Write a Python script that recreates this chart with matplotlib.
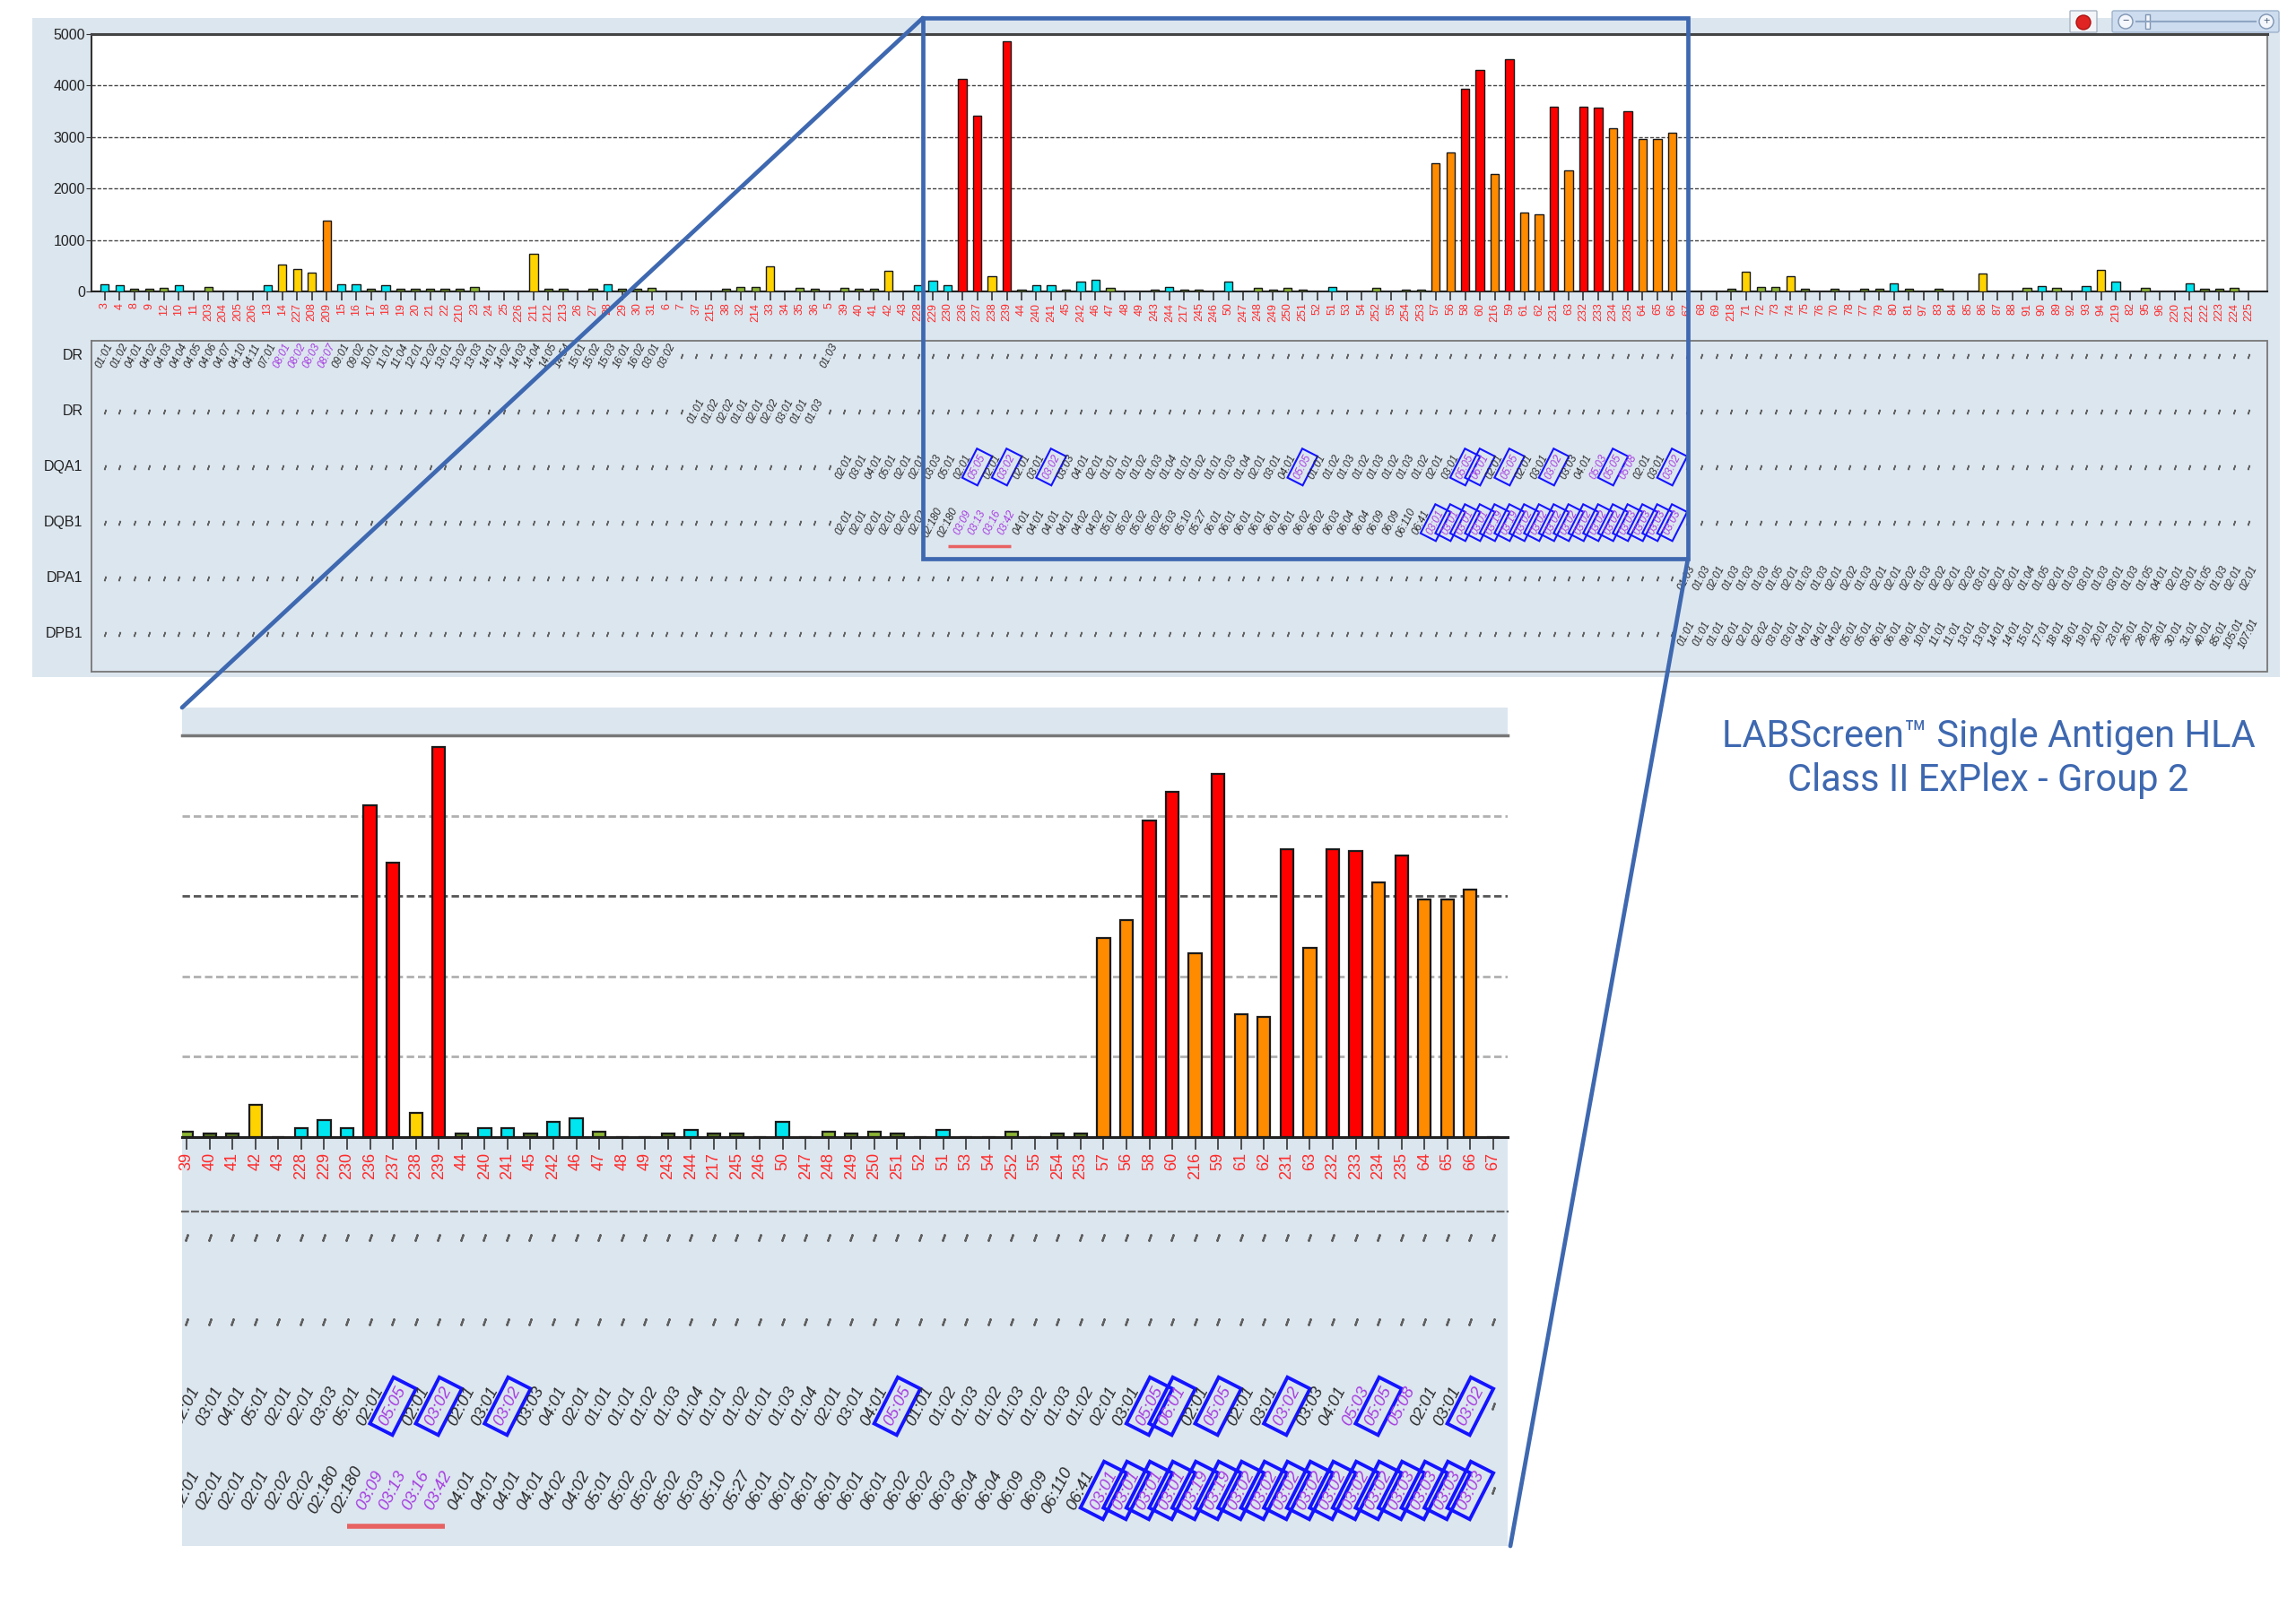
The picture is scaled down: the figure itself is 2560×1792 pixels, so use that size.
import numpy as np
import matplotlib
matplotlib.use("Agg")
import matplotlib.pyplot as plt
from matplotlib.patches import Rectangle, Circle, FancyBboxPatch
from matplotlib.transforms import blended_transform_factory

W, H = 2560, 1792

# bead numbers in plate order, raw MFI and reaction grade per bead
bead_ids = [3, 4, 8, 9, 12, 10, 11, 203, 204, 205,
            206, 13, 14, 227, 208, 209, 15, 16, 17, 18,
            19, 20, 21, 22, 210, 23, 24, 25, 226, 211,
            212, 213, 26, 27, 28, 29, 30, 31, 6, 7,
            37, 215, 38, 32, 214, 33, 34, 35, 36, 5,
            39, 40, 41, 42, 43, 228, 229, 230, 236, 237,
            238, 239, 44, 240, 241, 45, 242, 46, 47, 48,
            49, 243, 244, 217, 245, 246, 50, 247, 248, 249,
            250, 251, 52, 51, 53, 54, 252, 55, 254, 253,
            57, 56, 58, 60, 216, 59, 61, 62, 231, 63,
            232, 233, 234, 235, 64, 65, 66, 67, 68, 69,
            218, 71, 72, 73, 74, 75, 76, 70, 78, 77,
            79, 80, 81, 97, 83, 84, 85, 86, 87, 88,
            91, 90, 89, 92, 93, 94, 219, 82, 95, 96,
            220, 221, 222, 223, 224, 225]
mfi = [145, 116, 46, 46, 70, 116, 0, 87, 0, 0,
       0, 116, 523, 430, 360, 1378, 140, 140, 46, 116,
       46, 46, 46, 46, 46, 87, 0, 0, 0, 733,
       46, 46, 0, 46, 140, 46, 46, 70, 0, 0,
       0, 0, 46, 92, 92, 491, 0, 70, 46, 0,
       70, 46, 46, 399, 0, 116, 214, 116, 4128, 3413,
       300, 4855, 40, 116, 116, 40, 186, 232, 70, 0,
       0, 40, 87, 40, 40, 0, 186, 0, 70, 40,
       70, 40, 0, 87, 0, 0, 70, 0, 40, 40,
       2483, 2698, 3942, 4302, 2290, 4517, 1529, 1500, 3581, 2360,
       3581, 3564, 3174, 3506, 2959, 2959, 3081, 0, 0, 0,
       47, 384, 87, 87, 302, 47, 0, 47, 0, 47,
       47, 157, 47, 0, 47, 0, 0, 355, 0, 0,
       64, 110, 64, 0, 110, 424, 186, 0, 64, 0,
       0, 157, 47, 47, 64, 0]
reaction = list("ccddgcngnn"
                "ncyyyoccdc"
                "dddddgnnny"
                "ddndcddgnn"
                "nndggyngdn"
                "gddyncccrr"
                "yrdccdccgn"
                "ndcddncngd"
                "gdncnngndd"
                "oorrorooro"
                "rroroooonn"
                "dyggydndnd"
                "dcdndnnynn"
                "gcgncycngn"
                "ncddgn")

loci = ["DR", "DR", "DQA1", "DQB1", "DPA1", "DPB1"]
dr1_alleles = ["01:01", "01:02", "04:01", "04:02", "04:03", "04:04", "04:05", "04:06",
               "04:07", "04:10", "04:11", "07:01", "08:01", "08:02", "08:03", "08:07",
               "09:01", "09:02", "10:01", "11:01", "11:04", "12:01", "12:02", "13:01",
               "13:02", "13:03", "14:01", "14:02", "14:03", "14:04", "14:05", "14:54",
               "15:01", "15:02", "15:03", "16:01", "16:02", "03:01", "03:02"]
dr1_extra = ["01:03"]
dr2_alleles = ["01:01", "01:02", "02:02", "01:01", "02:01", "02:02", "03:01", "01:01", "01:03"]
dqa1_alleles = ["02:01", "03:01", "04:01", "05:01", "02:01", "02:01", "03:03", "05:01",
                "02:01", "05:05", "02:01", "03:02", "02:01", "03:01", "03:02", "03:03",
                "04:01", "02:01", "01:01", "01:01", "01:02", "01:03", "01:04", "01:01",
                "01:02", "01:01", "01:03", "01:04", "02:01", "03:01", "04:01", "05:05",
                "01:01", "01:02", "01:03", "01:02", "01:03", "01:02", "01:03", "01:02",
                "02:01", "03:01", "05:05", "06:01", "02:01", "05:05", "02:01", "03:01",
                "03:02", "03:03", "04:01", "05:03", "05:05", "05:08", "02:01", "03:01",
                "03:02"]
dqb1_alleles = ["02:01", "02:01", "02:01", "02:01", "02:02", "02:02", "02:180", "02:180",
                "03:09", "03:13", "03:16", "03:42",
                "04:01", "04:01", "04:01", "04:01", "04:02", "04:02",
                "05:01", "05:02", "05:02", "05:02", "05:03", "05:10", "05:27",
                "06:01", "06:01", "06:01", "06:01", "06:01", "06:01", "06:02", "06:02",
                "06:03", "06:04", "06:04", "06:09", "06:09", "06:110", "06:41",
                "03:01", "03:01", "03:01", "03:01", "03:19", "03:19", "03:02", "03:02",
                "03:02", "03:02", "03:02", "03:02", "03:02", "03:03", "03:03", "03:03",
                "03:03"]
dpa1_alleles = ["01:03", "01:03", "02:01", "01:03", "01:03", "01:03", "01:05", "02:01",
                "01:03", "01:03", "02:01", "02:02", "01:03", "02:01", "02:01", "02:02",
                "01:03", "02:02", "02:01", "02:02", "03:01", "02:01", "02:01", "01:04",
                "01:05", "02:01", "01:03", "03:01", "01:03", "03:01", "01:03", "01:05",
                "04:01", "02:01", "03:01", "01:05", "01:03", "02:01", "02:01"]
dpb1_alleles = ["01:01", "01:01", "01:01", "02:01", "02:01", "02:02", "03:01", "03:01",
                "04:01", "04:01", "04:02", "05:01", "05:01", "06:01", "06:01", "09:01",
                "10:01", "11:01", "11:01", "13:01", "13:01", "14:01", "14:01", "15:01",
                "17:01", "18:01", "18:01", "19:01", "20:01", "23:01", "26:01", "28:01",
                "28:01", "30:01", "31:01", "40:01", "85:01", "105:01", "107:01"]

# first bead of each run of alleles, per locus row
row_segments = [
    [(1, dr1_alleles), (50, dr1_extra)],
    [(41, dr2_alleles)],
    [(51, dqa1_alleles)],
    [(51, dqb1_alleles)],
    [(108, dpa1_alleles)],
    [(108, dpb1_alleles)],
]
purple_beads = [[13, 14, 15, 16], [], [102, 104], [59, 60, 61, 62], [], []]
boxed_beads = [[], [], [60, 62, 65, 82, 93, 94, 96, 99, 103, 107],
               list(range(91, 108)), [], []]
underline_row, underline_beads = 3, [59, 60, 61, 62]
zoom_first, zoom_last = 51, 108

title = "LABScreen\u2122 Single Antigen HLA\nClass II ExPlex - Group 2"

bar_colors = {"c": "#00e6f0", "g": "#8cb535", "d": "#5a7722", "y": "#ffd300",
              "o": "#ff8b00", "r": "#ff0000", "n": "#ffffff"}
BG = "#dce6ef"
BLUE = "#3e68b0"
PURPLE = "#a63ee0"
NARROW = ["Liberation Sans Narrow", "Liberation Sans", "DejaVu Sans"]

plt.rcParams["font.family"] = ["Liberation Sans", "DejaVu Sans"]


def frac(x0, y0, x1, y1):
    return [x0 / W, 1 - y1 / H, (x1 - x0) / W, (y1 - y0) / H]


def draw_bars(ax, tick_fs, tick_len, lw, grid_colors, grid_lw):
    x = np.arange(len(mfi))
    cols = [bar_colors[r] for r in reaction]
    ax.bar(x, mfi, width=0.56, color=cols, edgecolor="#1a1a1a",
           linewidth=lw, zorder=3)
    for v, gc in zip([1000, 2000, 3000, 4000], grid_colors):
        ax.axhline(v, color=gc, ls=(0, (3, 1.5)), lw=grid_lw, zorder=1)
    ax.set_ylim(0, 5000)
    ax.set_xticks(x)
    ax.set_xticklabels([str(b) for b in bead_ids], rotation=90,
                       color="#ff2a2a", fontsize=tick_fs)
    ax.tick_params(axis="x", length=tick_len, width=1.2, color="#333", pad=2)


def draw_locus(ax, rows, beads, fs, box_lw, dot_ms, dot_mew, under_lw):
    for r in rows:
        named = {}
        for start, names in row_segments[r]:
            for k, nm in enumerate(names):
                named[start + k] = nm
        dots = []
        for b in beads:
            if b not in named:
                dots.append(b - 1)
                continue
            boxed = b in boxed_beads[r]
            col = PURPLE if (boxed or b in purple_beads[r]) else "#2c2c2c"
            bbox = None
            if boxed:
                bbox = dict(boxstyle="square,pad=0.3", fc="none",
                            ec="#1414ff", lw=box_lw)
            ax.text(b - 1, r, named[b], rotation=63, rotation_mode="anchor",
                    ha="center", va="center", fontsize=fs, style="italic",
                    color=col, bbox=bbox, clip_on=True)
        ax.plot(dots, [r] * len(dots), ls="none", marker=(2, 2, -20),
                ms=dot_ms, mew=dot_mew, color="#606060")
        if r == underline_row:
            ax.plot([min(underline_beads) - 2.0, max(underline_beads) - 0.75],
                    [r + 0.43] * 2, color="#e86262", lw=under_lw,
                    solid_capstyle="butt")


fig = plt.figure(figsize=(W / 100, H / 100), dpi=100)

# background panels
under = fig.add_axes([0, 0, 1, 1], zorder=-5)
under.set_xlim(0, W)
under.set_ylim(H, 0)
under.set_axis_off()
under.add_patch(Rectangle((36, 20), 2506, 735, fc=BG, ec="none"))
under.add_patch(Rectangle((203, 789), 1478, 31, fc=BG, ec="none"))
under.add_patch(Rectangle((203, 1268), 1478, 456, fc=BG, ec="none"))

# main bar chart
ax_top = fig.add_axes(frac(102, 38, 2528, 325), zorder=2)
draw_bars(ax_top, 9, 7, 1.0, ["#444"] * 4, 1.0)
ax_top.set_xlim(-0.9, 146.25)
ax_top.set_yticks(range(0, 5001, 1000))
ax_top.tick_params(axis="y", length=4, labelsize=11.5, color="#333", pad=1)
for lab in ax_top.get_yticklabels():
    lab.set_family(NARROW)
    lab.set_color("#222")
ax_top.spines["left"].set(color="#333", lw=1.5)
ax_top.spines["top"].set(color="#444", lw=2.2)
ax_top.spines["right"].set(color="#888", lw=1.5)
ax_top.spines["bottom"].set(color="#222", lw=1.5)

# locus rows under the main chart
all_beads = range(1, len(bead_ids) + 1)
ax_loc = fig.add_axes(frac(102, 380, 2528, 749), zorder=2, facecolor=BG)
ax_loc.set_xlim(-0.9, 146.25)
ax_loc.set_ylim(5.68, -0.27)
ax_loc.set_xticks([])
ax_loc.set_yticks([])
for sp in ax_loc.spines.values():
    sp.set(color="#777", lw=1.3, ls=(0, (1, 1)))
draw_locus(ax_loc, range(6), all_beads, 8.5, 1.5, 4, 1.1, 2.5)
tr = blended_transform_factory(ax_loc.transAxes, ax_loc.transData)
for r, name in enumerate(loci):
    ax_loc.text(-0.004, r, name, transform=tr, ha="right", va="center",
                fontsize=11.5, family=NARROW, color="#222")

# enlarged view
zoom_beads = range(zoom_first, zoom_last + 1)
zxlim = (zoom_first - 1 - 0.2, zoom_last - 1 + 0.63)
ax_zb = fig.add_axes(frac(203, 820, 1681, 1268), zorder=2)
draw_bars(ax_zb, 13, 10, 1.6, ["#b0b0b0", "#b0b0b0", "#555", "#b0b0b0"], 2.0)
ax_zb.set_xlim(*zxlim)
ax_zb.set_yticks([])
ax_zb.spines["left"].set_visible(False)
ax_zb.spines["right"].set_visible(False)
ax_zb.spines["top"].set(color="#777", lw=2.5)
ax_zb.spines["bottom"].set(color="#222", lw=2.2)

ax_zl = fig.add_axes(frac(203, 1351, 1681, 1724), zorder=2, facecolor=BG)
ax_zl.set_xlim(*zxlim)
ax_zl.set_ylim(3.66, -0.31)
ax_zl.set_xticks([])
ax_zl.set_yticks([])
for side in ["left", "right", "bottom"]:
    ax_zl.spines[side].set_visible(False)
ax_zl.spines["top"].set(color="#666", lw=1.6, ls=(0, (3, 2)))
draw_locus(ax_zl, range(4), zoom_beads, 13.5, 2.8, 6, 1.6, 4)

# zoom frame, connectors, caption, toolbar
over = fig.add_axes([0, 0, 1, 1], zorder=10)
over.set_xlim(0, W)
over.set_ylim(H, 0)
over.set_axis_off()
over.add_patch(Rectangle((1029, 20), 853, 603, fc="none", ec=BLUE, lw=3.4))
over.plot([1029, 203], [20, 789], color=BLUE, lw=3.4, solid_capstyle="round")
over.plot([1882, 1684], [623, 1724], color=BLUE, lw=3.4, solid_capstyle="round")
over.text(2217, 846, title, ha="center", va="center", fontsize=30,
          color=BLUE, family=["Roboto", "DejaVu Sans"], linespacing=1.25)

over.add_patch(FancyBboxPatch((2309, 13), 28, 22, boxstyle="round,pad=1",
                              fc="#f2f4f8", ec="#a8b4c4", lw=1))
over.add_patch(Circle((2323, 25), 8, fc="#e02424", ec="#b01010", lw=1))
over.add_patch(FancyBboxPatch((2357, 14), 182, 20, boxstyle="round,pad=2",
                              fc="#cddcee", ec="#9fb3cc", lw=1))
over.plot([2382, 2515], [24, 24], color="#8fa6c2", lw=1.5)
for cx, sym in [(2370, "\u2212"), (2527, "+")]:
    over.add_patch(Circle((cx, 24), 8, fc="#f4f7fb", ec="#7f95b3", lw=1))
    over.text(cx, 24, sym, ha="center", va="center", fontsize=9, color="#4a5d78")
over.add_patch(Rectangle((2392, 16), 5, 16, fc="#f4f7fb", ec="#7f95b3", lw=1))

fig.savefig("out.png", dpi=100, facecolor="white")
